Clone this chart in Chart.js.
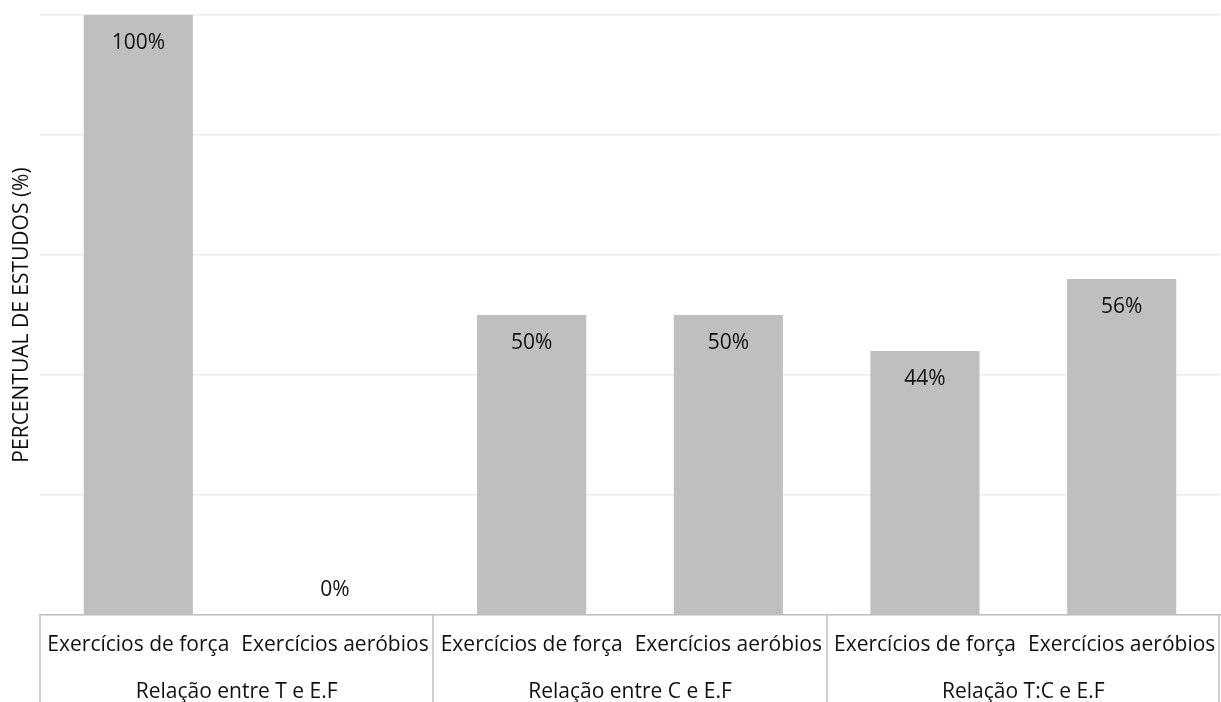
<!DOCTYPE html>
<html>
<head>
<meta charset="utf-8">
<script src="https://cdn.jsdelivr.net/npm/chart.js@4"></script>
<style>
  html, body { margin: 0; padding: 0; background: #fff; }
  #wrap { width: 1221px; height: 702px; }
</style>
</head>
<body>
<div id="wrap"><canvas id="grafico"></canvas></div>
<script>
// dados do grafico
var categorias = ['Exercícios de força', 'Exercícios aeróbios',
                  'Exercícios de força', 'Exercícios aeróbios',
                  'Exercícios de força', 'Exercícios aeróbios'];
var grupos = ['Relação entre T e E.F', 'Relação entre C e E.F', 'Relação T:C e E.F'];
var percentuais = [100, 0, 50, 50, 44, 56];
var eixoY = { min: 0, max: 100, passo: 20 };

Chart.defaults.font.family = "'Open Sans', sans-serif";
Chart.defaults.color = '#111';

// rotulos de valor dentro do topo das barras
var rotulos = {
    id: 'rotulos',
    afterDatasetsDraw: function (chart) {
        var ctx = chart.ctx;
        var meta = chart.getDatasetMeta(0);
        ctx.save();
        ctx.font = "21px 'Open Sans'";
        ctx.fillStyle = '#111';
        ctx.textAlign = 'center';
        ctx.textBaseline = 'middle';
        meta.data.forEach(function (bar, i) {
            var v = percentuais[i];
            var y = v > 0 ? bar.y + 28 : bar.base - 25;
            ctx.fillText(v + '%', bar.x, y);
        });
        ctx.restore();
    }
};

// linhas divisorias dos grupos no eixo x
var divisorias = {
    id: 'divisorias',
    afterDraw: function (chart) {
        var xs = chart.scales.x;
        var ctx = chart.ctx;
        var n = grupos.length;
        var w = (xs.right - xs.left) / n;
        ctx.save();
        ctx.strokeStyle = '#bfbfbf';
        ctx.lineWidth = 1.5;
        for (var k = 0; k <= n; k++) {
            var x = Math.round(xs.left + k * w) - (k === n ? 1 : 0);
            ctx.beginPath();
            ctx.moveTo(x, xs.top);
            ctx.lineTo(x, chart.height);
            ctx.stroke();
        }
        ctx.restore();
    }
};

function semPadding(s, h) {
    s.height = h;
    s.paddingLeft = 0;
    s.paddingRight = 0;
}

new Chart(document.getElementById('grafico'), {
    type: 'bar',
    data: {
        labels: categorias,
        datasets: [{
            data: percentuais,
            backgroundColor: '#bfbfbf',
            barPercentage: 0.555,
            categoryPercentage: 1
        }]
    },
    options: {
        responsive: true,
        maintainAspectRatio: false,
        animation: false,
        layout: { padding: { top: 15, right: 1, left: 0, bottom: 0 } },
        plugins: {
            legend: { display: false },
            tooltip: { enabled: false }
        },
        scales: {
            y: {
                min: eixoY.min,
                max: eixoY.max,
                z: 1,
                ticks: { stepSize: eixoY.passo, display: false },
                grid: { color: 'rgba(217,217,217,0.5)', lineWidth: 1.5, drawTicks: false },
                border: { display: false },
                title: {
                    display: true,
                    text: 'PERCENTUAL DE ESTUDOS (%)',
                    font: { size: 21 },
                    color: '#111',
                    padding: { top: 9, bottom: 0 }
                },
                afterFit: function (s) { s.width = 40; }
            },
            x: {
                offset: true,
                grid: { display: false, drawTicks: false },
                border: { display: true, color: '#bfbfbf', width: 1.5 },
                ticks: {
                    autoSkip: false,
                    maxRotation: 0,
                    minRotation: 0,
                    padding: 17,
                    font: { size: 21 },
                    color: '#111'
                },
                afterFit: function (s) { semPadding(s, 50); }
            },
            grupo: {
                type: 'category',
                axis: 'x',
                position: 'bottom',
                weight: 1,
                labels: grupos,
                offset: true,
                grid: { display: false, drawTicks: false },
                border: { display: false },
                ticks: {
                    autoSkip: false,
                    maxRotation: 0,
                    padding: 14,
                    font: { size: 21 },
                    color: '#111'
                },
                afterFit: function (s) { semPadding(s, 37); }
            }
        }
    },
    plugins: [rotulos, divisorias]
});
</script>
</body>
</html>
